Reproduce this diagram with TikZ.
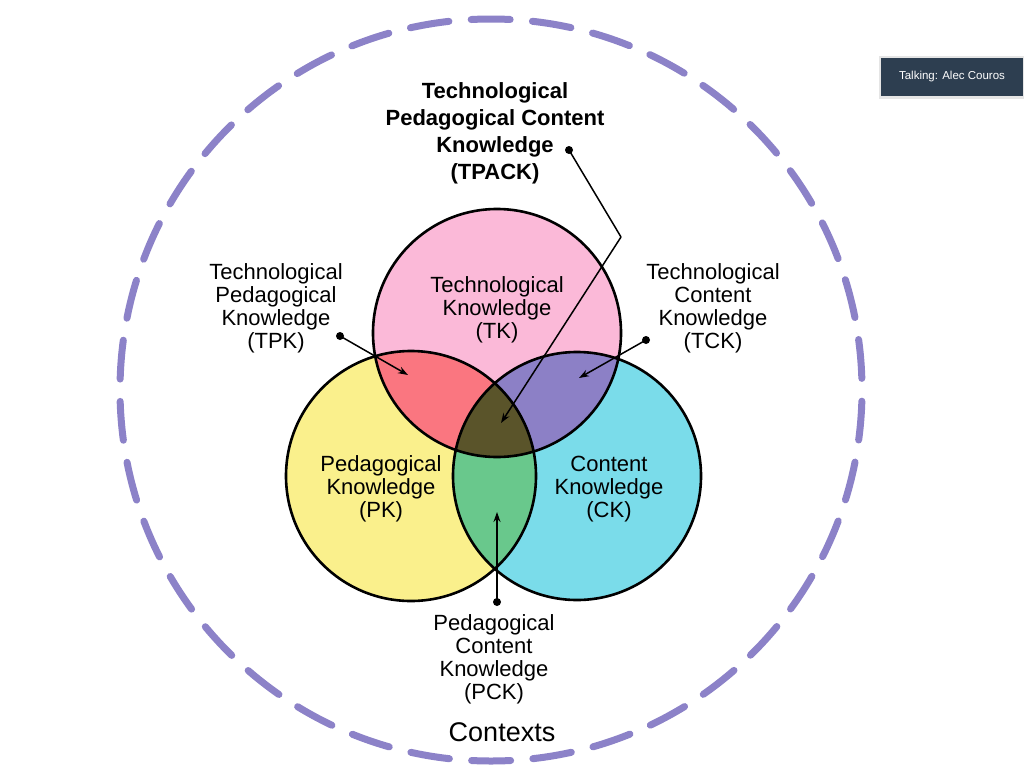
\documentclass[tikz,border=0pt]{standalone}
\usepackage{fontspec}
\setmainfont{Liberation Sans}
\usetikzlibrary{arrows.meta}
\definecolor{pinkc}{RGB}{251,185,216}
\definecolor{yellowc}{RGB}{250,240,140}
\definecolor{cyanc}{RGB}{122,220,234}
\definecolor{redc}{RGB}{250,118,128}
\definecolor{purplec}{RGB}{140,128,198}
\definecolor{greenc}{RGB}{105,200,140}
\definecolor{darkc}{RGB}{90,84,42}
\definecolor{dashc}{RGB}{140,130,200}
\definecolor{slatec}{RGB}{45,62,80}
\begin{document}
\begin{tikzpicture}[x=1pt,y=-1pt,
  lbl/.style={align=center,inner sep=0pt,font=\fontsize{22}{23}\selectfont},
  ttl/.style={align=center,inner sep=0pt,font=\fontsize{22}{27}\selectfont\bfseries},
  conn/.style={line width=1.5pt,-{Stealth[length=10pt,width=7pt]}},
  dotc/.style={circle,fill=black,inner sep=0pt,minimum size=8pt},
  vring/.style={line width=2.6pt,draw=black}]
\useasboundingbox (0,0) rectangle (1024,779);
\fill[white] (0,0) rectangle (1024,779);
% outer context circle
\coordinate (O) at (491,390);
\draw[dashc,line width=7pt,line cap=round,dash pattern=on 39pt off 22.34pt,dash phase=50.17pt] (O) circle (371);
% venn centres
\coordinate (T) at (497,333);
\coordinate (P) at (411,476);
\coordinate (C) at (577,476);
\fill[pinkc] (T) circle (124);
\fill[yellowc] (P) circle (125);
\fill[cyanc] (C) circle (124);
\begin{scope}
  \clip (T) circle (124);
  \fill[redc] (P) circle (125);
  \fill[purplec] (C) circle (124);
\end{scope}
\begin{scope}
  \clip (P) circle (125);
  \fill[greenc] (C) circle (124);
  \clip (C) circle (124);
  \fill[darkc] (T) circle (124);
\end{scope}
\draw[vring] (T) circle (124);
\draw[vring] (P) circle (125);
\draw[vring] (C) circle (124);
% labels
\node[ttl] (tpack) at (495,133) {Technological\\Pedagogical Content\\Knowledge\\(TPACK)};
\node[lbl] (tk) at (497,310) {Technological\\Knowledge\\(TK)};
\node[lbl] (pk) at (381,489) {Pedagogical\\Knowledge\\(PK)};
\node[lbl] (ck) at (609,489) {Content\\Knowledge\\(CK)};
\node[lbl] (tpk) at (276,308) {Technological\\Pedagogical\\Knowledge\\(TPK)};
\node[lbl] (tck) at (713,308) {Technological\\Content\\Knowledge\\(TCK)};
\node[lbl] (pck) at (494,659) {Pedagogical\\Content\\Knowledge\\(PCK)};
\node[inner sep=0pt,font=\fontsize{27}{30}\selectfont] (ctx) at (502,732) {Contexts};
% connectors
\node[dotc] (d1) at (569,150) {};
\coordinate (b1) at (621,237);
\coordinate (a1) at (501,423);
\draw[line width=1.5pt] (d1.center) -- (b1);
\draw[conn] (b1) -- (a1);
\node[dotc] (d2) at (340,336) {};
\coordinate (a2) at (408,375);
\draw[conn] (d2.center) -- (a2);
\node[dotc] (d3) at (646,340) {};
\coordinate (a3) at (579,378);
\draw[conn] (d3.center) -- (a3);
\node[dotc] (d4) at (497,602) {};
\coordinate (a4) at (497,512);
\draw[conn] (d4.center) -- (a4);
% talking badge
\fill[black!10] (879,56) rectangle (1024,99);
\node[fill=slatec,text=white,minimum width=142pt,minimum height=38pt,inner sep=0pt,font=\fontsize{11.5}{13}\selectfont] (talk) at (952,77) {Talking: Alec Couros};
\end{tikzpicture}
\end{document}
